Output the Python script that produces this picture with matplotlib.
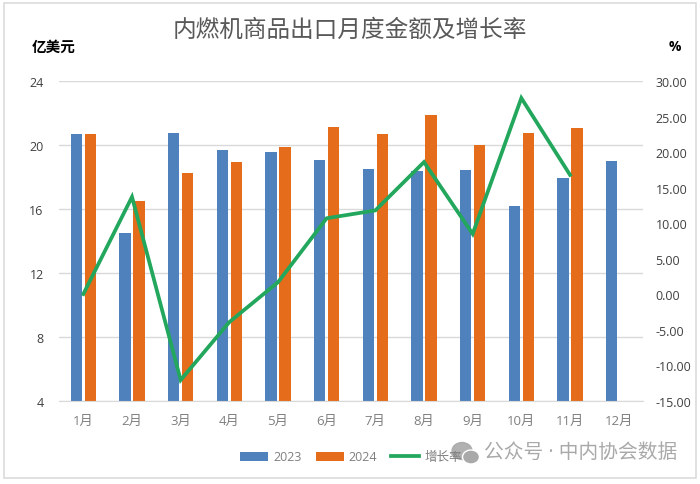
import matplotlib
matplotlib.use('Agg')
import matplotlib.pyplot as plt
import numpy as np
from matplotlib.patches import Ellipse, Rectangle

plt.rcParams['font.family'] = ['Open Sans', 'Noto Sans CJK SC', 'DejaVu Sans']

months = ['1月', '2月', '3月', '4月', '5月', '6月', '7月', '8月', '9月', '10月', '11月', '12月']
v2023 = [20.7, 14.5, 20.75, 19.67, 19.56, 19.08, 18.5, 18.4, 18.44, 16.2, 17.96, 19.02]
v2024 = [20.7, 16.5, 18.23, 18.96, 19.88, 21.1, 20.7, 21.85, 20.02, 20.73, 21.04]
rate = [0.04, 13.7, -12.05, -3.9, 1.7, 10.7, 11.8, 18.6, 8.5, 27.6, 16.8]
left_ticks = [4, 8, 12, 16, 20, 24]
right_ticks = [-15, -10, -5, 0, 5, 10, 15, 20, 25, 30]

W, H = 700, 485
fig = plt.figure(figsize=(7, 4.85), dpi=100, facecolor='white')

# outer frame of the picture, in pixels
fig.add_artist(Rectangle((4 / W, 1 - 479 / H), 692 / W, 475 / H, transform=fig.transFigure,
                         fill=False, ec='#dcdcdc', lw=1.2))

ax = fig.add_axes([59 / W, 1 - 402 / H, 584 / W, 320 / H])
x = np.arange(len(months))
b1 = ax.bar(x - 0.145, v2023, width=0.235, color='#4f81bd', label='2023')
b2 = ax.bar(x[:len(v2024)] + 0.145, v2024, width=0.235, color='#e46c1a', label='2024')
ax.set_xlim(-0.5, 11.5)
ax.set_ylim(4, 24)
ax.set_yticks(left_ticks)
ax.set_xticks(x)
ax.set_xticklabels(months, color='#7f7f7f', fontsize=9.5)
ax.grid(axis='y', color='#d9d9d9', lw=1)
ax.set_axisbelow(True)
ax.tick_params(axis='y', length=0, pad=11, labelsize=9, labelcolor='#404040')
ax.tick_params(axis='x', length=0, pad=9)
for s in ['top', 'left', 'right']:
    ax.spines[s].set_visible(False)
ax.spines['bottom'].set_color('#d9d9d9')

ax2 = ax.twinx()
line, = ax2.plot(x[:len(rate)], rate, color='#22a75d', lw=2.7, label='增长率', solid_joinstyle='miter')
ax2.set_ylim(-15, 30)
ax2.set_yticks(right_ticks)
ax2.set_yticklabels(['%.2f' % t for t in right_ticks])
ax2.tick_params(axis='y', length=0, pad=9, labelsize=9, labelcolor='#404040')
for s in ax2.spines.values():
    s.set_visible(False)

fig.text(350 / W, 1 - 31 / H, '内燃机商品出口月度金额及增长率', ha='center', va='center',
         fontsize=17, color='#595959')
fig.text(54 / W, 1 - 48 / H, '亿美元', ha='center', va='center', fontsize=10.5,
         color='black', fontweight='bold')
fig.text(675 / W, 1 - 47 / H, '%', ha='center', va='center', fontsize=10,
         color='black', fontweight='bold')

fig.legend(handles=[b1, b2, line], loc='center', bbox_to_anchor=(351 / W, 1 - 458 / H),
           ncol=3, frameon=False, fontsize=9, labelcolor='#7f7f7f', handlelength=2.25,
           handletextpad=0.4, columnspacing=1.1)

# watermark
wm = '#a9a9a9'
fig.add_artist(Ellipse((462 / W, 1 - 452 / H), 20 / W, 17 / H, transform=fig.transFigure, color=wm, alpha=0.9))
fig.add_artist(Ellipse((471 / W, 1 - 458 / H), 17 / W, 14 / H, transform=fig.transFigure,
                       fc=wm, ec='white', lw=1))
fig.text(484 / W, 1 - 453 / H, '公众号 · 中内协会数据', ha='left', va='center', fontsize=14.2, color=wm)

fig.savefig('out.png', dpi=100)
